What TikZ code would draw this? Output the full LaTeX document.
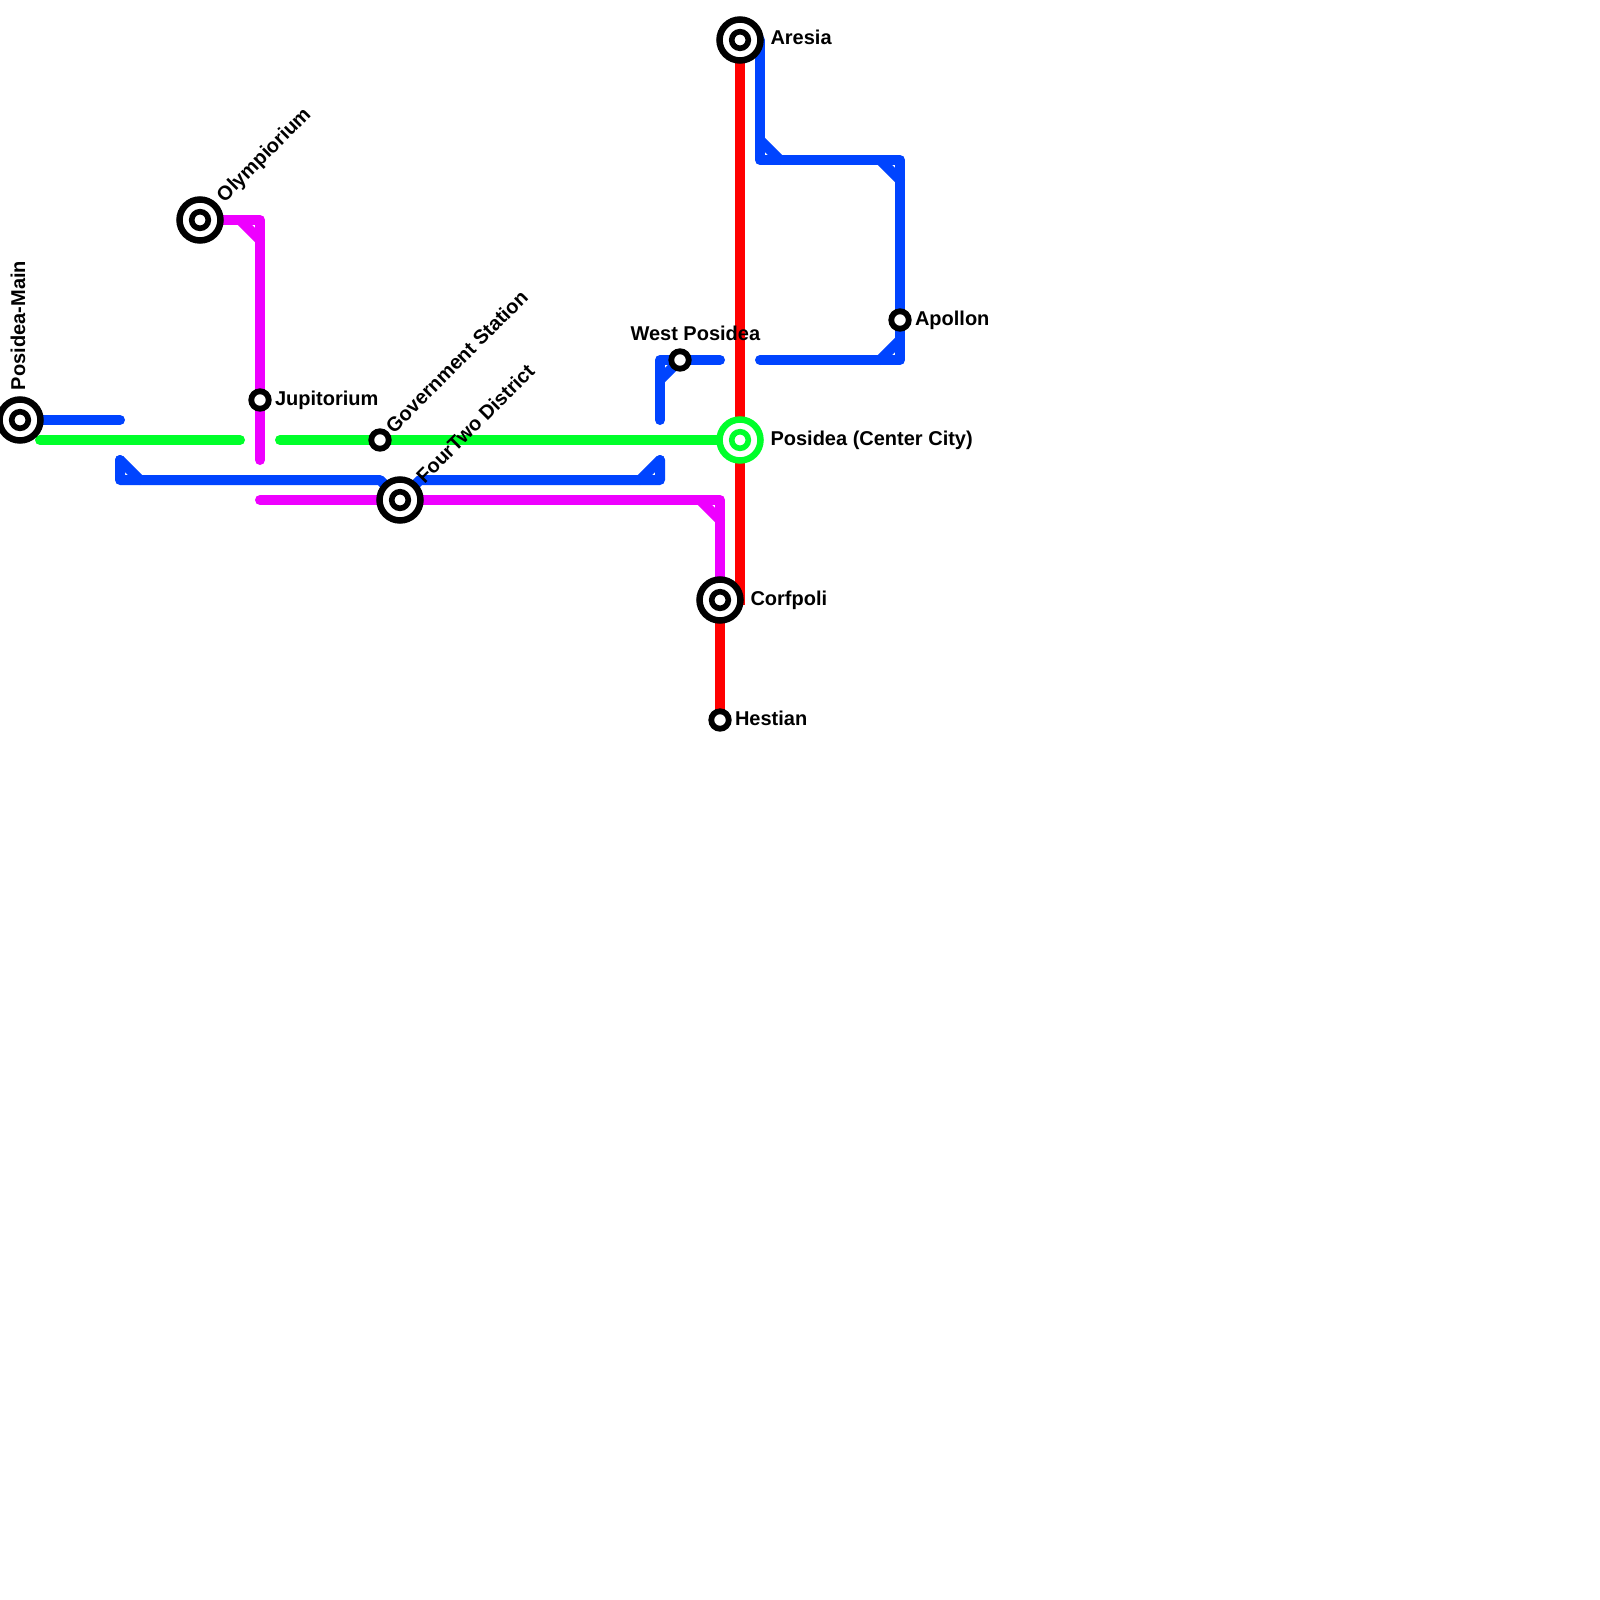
\documentclass[tikz,border=0pt]{standalone}
\usepackage{fontspec}
\setmainfont{Liberation Sans}
\definecolor{lblue}{HTML}{0044FF}
\definecolor{lgreen}{HTML}{00FF2A}
\definecolor{lmag}{HTML}{EE00FF}
\definecolor{lred}{HTML}{FF0000}
\pgfdeclarelayer{lines}
\pgfsetlayers{lines,main}
\tikzset{
  x=1pt,y=-1pt,
  metro/.style={line width=10pt,line cap=round,line join=round},
  hub/.style={circle,draw=black,fill=white,line width=6.5pt,minimum size=41pt,inner sep=0pt,outer sep=0pt,
    path picture={\draw[black,line width=5.6pt] (path picture bounding box.center) circle (8.3pt);}},
  hubgreen/.style={hub,draw=lgreen,
    path picture={\draw[lgreen,line width=5.6pt] (path picture bounding box.center) circle (8.3pt);}},
  halt/.style={circle,draw=black,fill=white,line width=5.8pt,minimum size=17.5pt,inner sep=0pt,outer sep=0pt},
  lab/.style={font=\fontsize{20}{24}\selectfont\bfseries,anchor=base west,inner sep=0pt,outer sep=0pt,text=black},
}
\begin{document}
\begin{tikzpicture}
\useasboundingbox (0,0) rectangle (1600,1600);
% stations
\node[hub] (main) at (20,420) {};
\node[hub] (olymp) at (200,220) {};
\node[halt] (jup) at (260,400) {};
\node[halt] (gov) at (380,440) {};
\node[hub] (four) at (400,500) {};
\node[halt] (west) at (680,360) {};
\node[hub] (aresia) at (740,40) {};
\node[hubgreen] (center) at (740,440) {};
\node[hub] (corf) at (720,600) {};
\node[halt] (hest) at (720,720) {};
\node[halt] (apol) at (900,320) {};
% free ends
\coordinate (bA) at (120,420);
\coordinate (bB) at (120,460);
\coordinate (bC) at (660,460);
\coordinate (bD) at (660,420);
\coordinate (bE) at (720,360);
\coordinate (bF) at (760,360);
\coordinate (gA) at (40,440);
\coordinate (gB) at (240,440);
\coordinate (gC) at (280,440);
\coordinate (mA) at (260,460);
\coordinate (mB) at (260,500);
\begin{pgfonlayer}{lines}
\fill[white] (0,0) rectangle (1600,1600);
% red
\draw[metro,lred,line cap=butt,line join=miter] (aresia.center) -- (740,600) -- (corf.center) -- (hest.center);
% green
\draw[metro,lgreen] (gA) -- (gB);
\draw[metro,lgreen] (gC) -- (gov.center) -- (center.center);
% magenta
\draw[metro,lmag] (olymp.center) -- (260,220) -- (jup.center) -- (mA);
\draw[metro,lmag] (240,220) -- (260,240);
\draw[metro,lmag] (mB) -- (four.center) -- (720,500) -- (corf.center);
\draw[metro,lmag] (700,500) -- (720,520);
% blue
\draw[metro,lblue] (main.center) -- (bA);
\draw[metro,lblue] (bB) -- (120,480) -- (380,480) -- (four.center) -- (420,480) -- (660,480) -- (bC);
\draw[metro,lblue] (bB) -- (140,480);
\draw[metro,lblue] (640,480) -- (bC);
\draw[metro,lblue] (bD) -- (660,360) -- (west.center) -- (bE);
\draw[metro,lblue] (660,380) -- (west.center);
\draw[metro,lblue] (aresia.center) -- (760,40) -- (760,160) -- (900,160) -- (apol.center) -- (900,360) -- (bF);
\draw[metro,lblue] (760,140) -- (780,160);
\draw[metro,lblue] (880,160) -- (900,180);
\draw[metro,lblue] (880,360) -- (900,340);
\end{pgfonlayer}
% labels
\node[lab] (tAresia) at (770.5,45) {Aresia};
\node[lab] (tCenter) at (770.5,445) {Posidea (Center City)};
\node[lab] (tCorf) at (750.5,605) {Corfpoli};
\node[lab] (tHest) at (735,725) {Hestian};
\node[lab] (tApol) at (915,325) {Apollon};
\node[lab] (tJup) at (275,405) {Jupitorium};
\node[lab] (tWest) at (630.5,340) {West Posidea};
\node[lab,rotate=45] (tOlymp) at (224.5,203) {Olympiorium};
\node[lab,rotate=45] (tGov) at (394,434) {Government Station};
\node[lab,rotate=45] (tFour) at (424.5,484) {FourTwo District};
\node[lab,rotate=90] (tMain) at (25,390) {Posidea-Main};
\end{tikzpicture}
\end{document}
